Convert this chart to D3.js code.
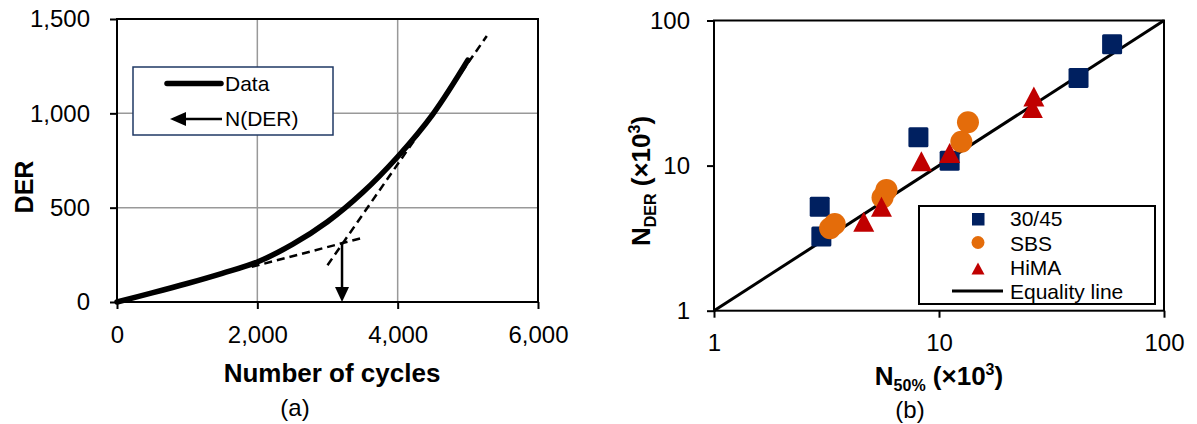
<!DOCTYPE html>
<meta charset="utf-8">
<script src="https://d3js.org/d3.v7.min.js"></script>
<style>
  body { margin: 0; background: #fff; }
  text { font-family: Arial, "Liberation Sans", sans-serif; fill: #000; }
</style>
<body>
<div id="chart"></div>
<script>
// ---- panel (a): DER vs number of cycles ----
var cycles = [0, 500, 1000, 1500, 2000, 2500, 3000, 3500, 4000, 4500, 5000];
var derValues = [0, 48, 98, 152, 212, 305, 425, 580, 770, 995, 1282];
var tangentLow = [[1920, 186], [3520, 342]];
var tangentHigh = [[3000, 195], [5270, 1410]];
var nDerPoint = [3207, 313];
var xTicksA = [0, 2000, 4000, 6000];
var yTicksA = [0, 500, 1000, 1500];

// ---- panel (b): N_DER vs N50% (x10^3) ----
var n50_3045 = [2.95, 3.0, 8.1, 11.15, 41.7, 58.8];
var nder_3045 = [5.2, 3.25, 15.7, 10.8, 40.1, 68.7];
var n50_sbs = [3.28, 3.44, 5.61, 5.84, 12.57, 13.45];
var nder_sbs = [3.7, 3.96, 6.02, 6.8, 14.6, 19.9];
var n50_hima = [4.63, 5.55, 8.35, 11.15, 26.0, 26.4];
var nder_hima = [4.11, 5.21, 10.7, 12.2, 24.9, 29.9];
var logTicks = [1, 10, 100];

var navy = "#002060", orange = "#E46C0A", red = "#C00000";

var svg = d3.select("#chart").append("svg")
  .attr("width", 1197).attr("height", 424);

// =================== panel (a) ===================
var xA = d3.scaleLinear().domain([0, 6000]).range([117, 538]);
var yA = d3.scaleLinear().domain([0, 1500]).range([302, 19]);

var gA = svg.append("g");

// gridlines
gA.selectAll(".gx").data(xTicksA.slice(1, 3)).enter().append("line")
  .attr("x1", d => xA(d)).attr("x2", d => xA(d))
  .attr("y1", yA(0)).attr("y2", yA(1500))
  .attr("stroke", "#999").attr("stroke-width", 1.5);
gA.selectAll(".gy").data(yTicksA.slice(1, 3)).enter().append("line")
  .attr("x1", xA(0)).attr("x2", xA(6000))
  .attr("y1", d => yA(d)).attr("y2", d => yA(d))
  .attr("stroke", "#999").attr("stroke-width", 1.5);

// axes
var axLA = gA.append("g").attr("transform", "translate(" + xA(0) + ",0)")
  .call(d3.axisLeft(yA).tickValues(yTicksA).tickFormat(d3.format(",")).tickSize(7).tickPadding(20));
var axBA = gA.append("g").attr("transform", "translate(0," + yA(0) + ")")
  .call(d3.axisBottom(xA).tickValues(xTicksA).tickFormat(d3.format(",")).tickSize(7).tickPadding(17));
[axLA, axBA].forEach(function(a) {
  a.select(".domain").remove();
  a.selectAll("line").attr("stroke", "#000").attr("stroke-width", 2);
  a.selectAll("text").style("font-size", "24px").attr("fill", "#000");
});

// frame
gA.append("rect")
  .attr("x", xA(0)).attr("y", yA(1500))
  .attr("width", xA(6000) - xA(0)).attr("height", yA(0) - yA(1500))
  .attr("fill", "none").attr("stroke", "#000").attr("stroke-width", 2);

// data curve
var lineA = d3.line().x((d, i) => xA(cycles[i])).y(d => yA(d)).curve(d3.curveCatmullRom.alpha(0.5));
gA.append("path").datum(derValues)
  .attr("d", lineA).attr("fill", "none").attr("stroke", "#000")
  .attr("stroke-width", 5.5).attr("stroke-linecap", "round");

// tangent lines
[tangentLow, tangentHigh].forEach(function(t) {
  gA.append("line")
    .attr("x1", xA(t[0][0])).attr("y1", yA(t[0][1]))
    .attr("x2", xA(t[1][0])).attr("y2", yA(t[1][1]))
    .attr("stroke", "#000").attr("stroke-width", 2.5)
    .attr("stroke-dasharray", "8,5");
});

// N(DER) arrow
var ax0 = xA(nDerPoint[0]);
gA.append("line")
  .attr("x1", ax0).attr("x2", ax0)
  .attr("y1", yA(nDerPoint[1])).attr("y2", yA(0) - 12)
  .attr("stroke", "#000").attr("stroke-width", 2.5);
gA.append("path")
  .attr("d", "M" + (ax0 - 7) + "," + (yA(0) - 15) + "L" + (ax0 + 7) + "," + (yA(0) - 15) + "L" + ax0 + "," + yA(0) + "Z")
  .attr("fill", "#000");

// legend (a)
var legA = gA.append("g");
legA.append("rect").attr("x", 133).attr("y", 67).attr("width", 200).attr("height", 68)
  .attr("fill", "#fff").attr("stroke", "#1F3864").attr("stroke-width", 1.5);
legA.append("line").attr("x1", 167).attr("x2", 221).attr("y1", 83.5).attr("y2", 83.5)
  .attr("stroke", "#000").attr("stroke-width", 5.5).attr("stroke-linecap", "round");
legA.append("text").attr("x", 225).attr("y", 91).style("font-size", "21px").text("Data");
legA.append("line").attr("x1", 180).attr("x2", 222).attr("y1", 119).attr("y2", 119)
  .attr("stroke", "#000").attr("stroke-width", 2.5);
legA.append("path").attr("d", "M170,119L186,112L186,126Z").attr("fill", "#000");
legA.append("text").attr("x", 225).attr("y", 126).style("font-size", "21px").text("N(DER)");

// titles (a)
gA.append("text").attr("x", 332).attr("y", 382).attr("text-anchor", "middle")
  .style("font-size", "26px").style("font-weight", "bold").text("Number of cycles");
gA.append("text").attr("transform", "translate(33,187) rotate(-90)").attr("text-anchor", "middle")
  .style("font-size", "25px").style("font-weight", "bold").text("DER");
gA.append("text").attr("x", 295).attr("y", 416).attr("text-anchor", "middle")
  .style("font-size", "24px").text("(a)");

// =================== panel (b) ===================
var xB = d3.scaleLog().domain([1, 100]).range([714, 1164]);
var yB = d3.scaleLog().domain([1, 100]).range([310.7, 20.5]);

var gB = svg.append("g");

var axLB = gB.append("g").attr("transform", "translate(" + xB(1) + ",0)")
  .call(d3.axisLeft(yB).tickValues(logTicks).tickFormat(d3.format("d")).tickSize(7).tickPadding(17));
var axBB = gB.append("g").attr("transform", "translate(0," + yB(1) + ")")
  .call(d3.axisBottom(xB).tickValues(logTicks).tickFormat(d3.format("d")).tickSize(7).tickPadding(16));
[axLB, axBB].forEach(function(a) {
  a.select(".domain").remove();
  a.selectAll("line").attr("stroke", "#000").attr("stroke-width", 2);
  a.selectAll("text").style("font-size", "24px").attr("fill", "#000");
});

gB.append("rect")
  .attr("x", xB(1)).attr("y", yB(100))
  .attr("width", xB(100) - xB(1)).attr("height", yB(1) - yB(100))
  .attr("fill", "none").attr("stroke", "#000").attr("stroke-width", 2);

// equality line
gB.append("line")
  .attr("x1", xB(1)).attr("y1", yB(1)).attr("x2", xB(100)).attr("y2", yB(100))
  .attr("stroke", "#000").attr("stroke-width", 3);

function triPath(w, h) {
  return "M0," + (-h / 2) + "L" + (w / 2) + "," + (h / 2) + "L" + (-w / 2) + "," + (h / 2) + "Z";
}

// 30/45 squares
gB.selectAll(".sq").data(n50_3045).enter().append("rect")
  .attr("x", d => xB(d) - 10).attr("y", (d, i) => yB(nder_3045[i]) - 10)
  .attr("width", 20).attr("height", 20).attr("rx", 1.5)
  .attr("fill", navy);
// SBS circles
gB.selectAll(".ci").data(n50_sbs).enter().append("circle")
  .attr("cx", d => xB(d)).attr("cy", (d, i) => yB(nder_sbs[i]))
  .attr("r", 11).attr("fill", orange);
// HiMA triangles
gB.selectAll(".tr").data(n50_hima).enter().append("path")
  .attr("transform", (d, i) => "translate(" + xB(d) + "," + yB(nder_hima[i]) + ")")
  .attr("d", triPath(21, 20)).attr("fill", red);

// legend (b)
var legB = gB.append("g");
legB.append("rect").attr("x", 919).attr("y", 206).attr("width", 236).attr("height", 98)
  .attr("fill", "#fff").attr("stroke", "#000").attr("stroke-width", 2);
legB.append("rect").attr("x", 972).attr("y", 213).attr("width", 12.5).attr("height", 12.5).attr("fill", navy);
legB.append("circle").attr("cx", 978).attr("cy", 242.5).attr("r", 6.5).attr("fill", orange);
legB.append("path").attr("transform", "translate(978,268.5)").attr("d", triPath(13, 12)).attr("fill", red);
legB.append("line").attr("x1", 952).attr("x2", 1003).attr("y1", 291).attr("y2", 291)
  .attr("stroke", "#000").attr("stroke-width", 3);
var legLabels = ["30/45", "SBS", "HiMA", "Equality line"];
var legBase = [226, 250.5, 275, 299];
legB.selectAll(".lt").data(legLabels).enter().append("text")
  .attr("x", 1010).attr("y", (d, i) => legBase[i])
  .style("font-size", "21px").text(d => d);

// titles (b)
var tx = gB.append("text").attr("x", 939).attr("y", 385).attr("text-anchor", "middle")
  .style("font-size", "26px").style("font-weight", "bold");
tx.append("tspan").text("N");
tx.append("tspan").attr("dy", 6).style("font-size", "16px").text("50%");
tx.append("tspan").attr("dy", -6).text(" (\u00d710");
tx.append("tspan").attr("dy", -10).style("font-size", "16px").text("3");
tx.append("tspan").attr("dy", 10).text(")");

var ty = gB.append("text").attr("transform", "translate(650,181) rotate(-90)").attr("text-anchor", "middle")
  .style("font-size", "26px").style("font-weight", "bold");
ty.append("tspan").text("N");
ty.append("tspan").attr("dy", 6).style("font-size", "16px").text("DER");
ty.append("tspan").attr("dy", -6).text(" (\u00d710");
ty.append("tspan").attr("dy", -10).style("font-size", "16px").text("3");
ty.append("tspan").attr("dy", 10).text(")");

gB.append("text").attr("x", 910).attr("y", 418).attr("text-anchor", "middle")
  .style("font-size", "24px").text("(b)");
</script>
</body>
